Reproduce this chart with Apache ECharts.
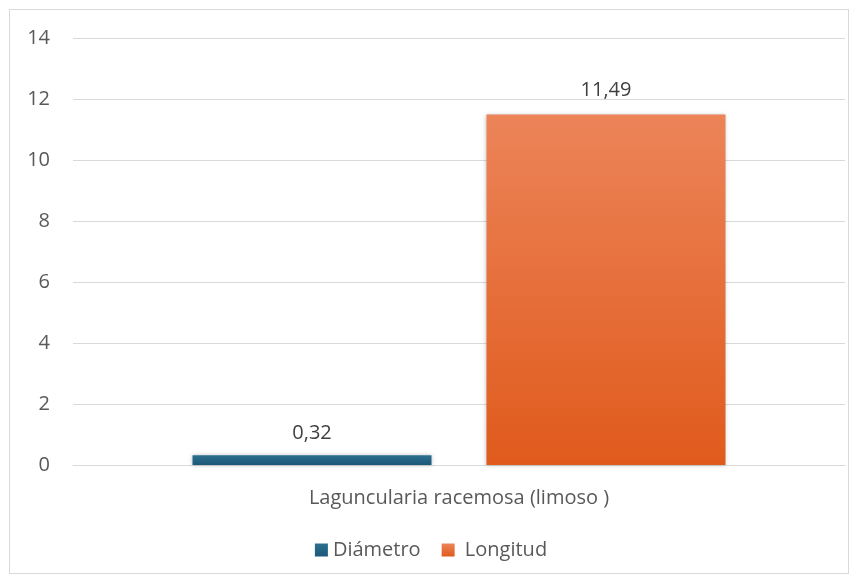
<!DOCTYPE html>
<html><head><meta charset="utf-8">
<script src="https://cdn.jsdelivr.net/npm/echarts@6/dist/echarts.min.js"></script>
<style>
html,body{margin:0;padding:0;background:#fff;}
#frame{position:absolute;left:9px;top:9px;width:840px;height:565px;border:1px solid #d9d9d9;box-sizing:border-box;}
#chart{position:absolute;left:0;top:0;width:862px;height:582px;}
</style></head>
<body>
<div id="frame"></div>
<div id="chart"></div>
<script>
const categories = ['Laguncularia racemosa (limoso )'];
const seriesNames = ['Diámetro', 'Longitud'];
const diametro = [0.32];
const longitud = [11.49];
const yTicks = [0, 2, 4, 6, 8, 10, 12, 14];

const chart = echarts.init(document.getElementById('chart'));
const font = '"Open Sans", "Noto Sans", sans-serif';
function grad(top, bottom) {
  return new echarts.graphic.LinearGradient(0, 0, 0, 1, [{offset: 0, color: top}, {offset: 1, color: bottom}]);
}
chart.setOption({
  animation: false,
  textStyle: {fontFamily: font},
  grid: {left: 73, right: 17, top: 38, bottom: 117},
  legend: {
    bottom: 17, left: 'center', itemWidth: 13, itemHeight: 13, itemGap: 21, icon: 'rect',
    textStyle: {fontSize: 20, color: '#595959', fontFamily: font},
    formatter: n => (n === 'Longitud' ? ' ' + n : n),
    data: seriesNames
  },
  xAxis: {
    type: 'category', data: categories,
    axisLine: {lineStyle: {color: '#d9d9d9', width: 1}},
    axisTick: {show: false},
    axisLabel: {fontSize: 20, color: '#595959', margin: 23}
  },
  yAxis: {
    type: 'value', min: 0, max: yTicks[yTicks.length - 1], interval: 2,
    axisLine: {show: false}, axisTick: {show: false},
    axisLabel: {fontSize: 20, color: '#595959', margin: 23},
    splitLine: {lineStyle: {color: '#d9d9d9', width: 1}}
  },
  series: [
    {
      name: seriesNames[0], type: 'bar', data: diametro, barWidth: 239, barGap: '23%',
      itemStyle: {color: grad('#2c6f90', '#1d5877'), shadowBlur: 4, shadowColor: 'rgba(0,0,0,0.25)'},
      label: {show: true, position: 'top', distance: 12, fontSize: 20, color: '#404040', formatter: p => String(p.value).replace('.', ',')}
    },
    {
      name: seriesNames[1], type: 'bar', data: longitud, barWidth: 239,
      itemStyle: {color: grad('#ec8459', '#e05a1c'), shadowBlur: 4, shadowColor: 'rgba(0,0,0,0.25)'},
      label: {show: true, position: 'top', distance: 14, fontSize: 20, color: '#404040', formatter: p => String(p.value).replace('.', ',')}
    }
  ]
});
</script>
</body></html>
